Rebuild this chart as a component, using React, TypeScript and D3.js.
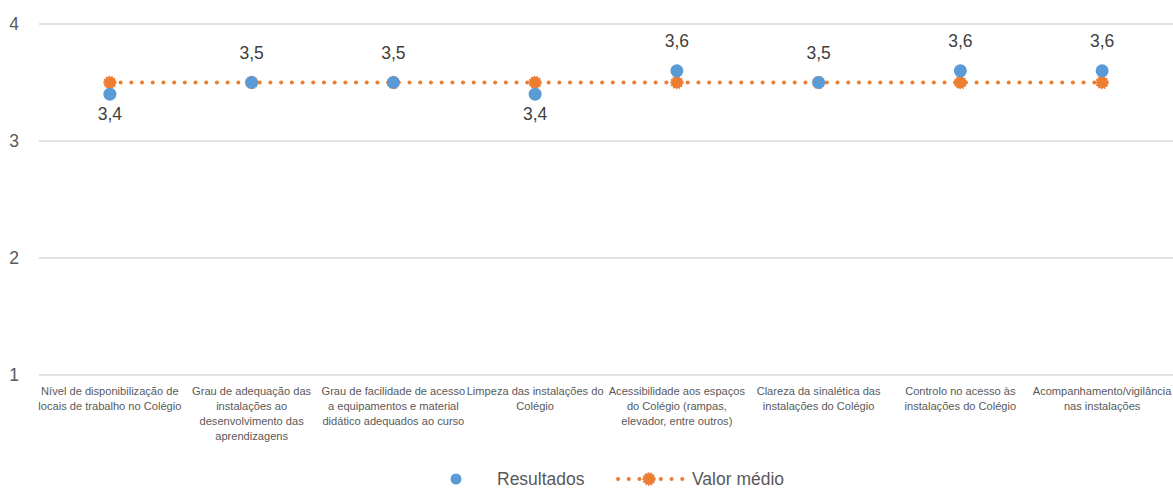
import React from "react";
import * as d3 from "d3";

const categories: string[][] = [
  ["Nível de disponibilização de", "locais de trabalho no Colégio"],
  ["Grau de adequação das", "instalações ao", "desenvolvimento das", "aprendizagens"],
  ["Grau de facilidade de acesso", "a equipamentos e material", "didático adequados ao curso"],
  ["Limpeza das instalações do", "Colégio"],
  ["Acessibilidade aos espaços", "do Colégio (rampas,", "elevador, entre outros)"],
  ["Clareza da sinalética das", "instalações do Colégio"],
  ["Controlo no acesso às", "instalações do Colégio"],
  ["Acompanhamento/vigilância", "nas instalações"],
];
const resultados = [3.4, 3.5, 3.5, 3.4, 3.6, 3.5, 3.6, 3.6];
const valorMedio = [3.5, 3.5, 3.5, 3.5, 3.5, 3.5, 3.5, 3.5];
const yTicks = [1, 2, 3, 4];

const W = 1173, H = 488;
const BLUE = "#5b9bd5", ORANGE = "#ed7d31";
const FONT = "'Liberation Sans', Arial, sans-serif";

export default function App() {
  const x = d3.scaleBand<number>().domain(d3.range(categories.length)).range([39, 1173]);
  const y = d3.scaleLinear().domain([1, 4]).range([375, 24]);
  const cx = (i: number) => (x(i) as number) + x.bandwidth() / 2;
  const line = d3.line<number>().x((_, i) => cx(i)).y((d) => y(d));
  const fmt = (v: number) => v.toFixed(1).replace(".", ",");

  return (
    <svg width={W} height={H} style={{ position: "absolute", left: 0, top: 0 }} fontFamily={FONT}>
      <rect width={W} height={H} fill="#fff" />
      {yTicks.map((t) => (
        <g key={t}>
          <line x1={39} x2={1173} y1={y(t)} y2={y(t)} stroke="#d9d9d9" strokeWidth={1.3} />
          <text x={14} y={y(t)} dy="0.35em" textAnchor="middle" fontSize={17.5} fill="#595959">{t}</text>
        </g>
      ))}
      {categories.map((lines, i) => (
        <text key={i} x={cx(i)} y={395} textAnchor="middle" fontSize={11.1} fill="#595959">
          {lines.map((l, j) => (
            <tspan key={j} x={cx(i)} dy={j === 0 ? 0 : 15}>{l}</tspan>
          ))}
        </text>
      ))}
      <path d={line(valorMedio) || ""} fill="none" stroke={ORANGE} strokeWidth={4} strokeDasharray="0.1 10.6" strokeLinecap="round" />
      {valorMedio.map((v, i) => (
        <circle key={i} cx={cx(i)} cy={y(v)} r={5.8} fill={ORANGE} stroke={ORANGE} strokeWidth={1.8} strokeDasharray="1.6 1.2" />
      ))}
      {resultados.map((v, i) => (
        <circle key={i} cx={cx(i)} cy={y(v)} r={6.5} fill={BLUE} />
      ))}
      {resultados.map((v, i) => {
        const below = v < valorMedio[i];
        return (
          <text key={i} x={cx(i)} y={below ? y(v) + 20 : y(v) - 29.5} dy="0.35em" textAnchor="middle" fontSize={17.5} fill="#404040">
            {fmt(v)}
          </text>
        );
      })}
      <g>
        <circle cx={456} cy={479} r={5.5} fill={BLUE} />
        <text x={497} y={479} dy="0.35em" fontSize={17.5} fill="#595959">Resultados</text>
        <line x1={618} x2={684} y1={479} y2={479} stroke={ORANGE} strokeWidth={4} strokeDasharray="0.1 10.6" strokeLinecap="round" />
        <circle cx={649} cy={479} r={5.8} fill={ORANGE} stroke={ORANGE} strokeWidth={1.8} strokeDasharray="1.6 1.2" />
        <text x={692} y={479} dy="0.35em" fontSize={17.5} fill="#595959">Valor médio</text>
      </g>
    </svg>
  );
}
